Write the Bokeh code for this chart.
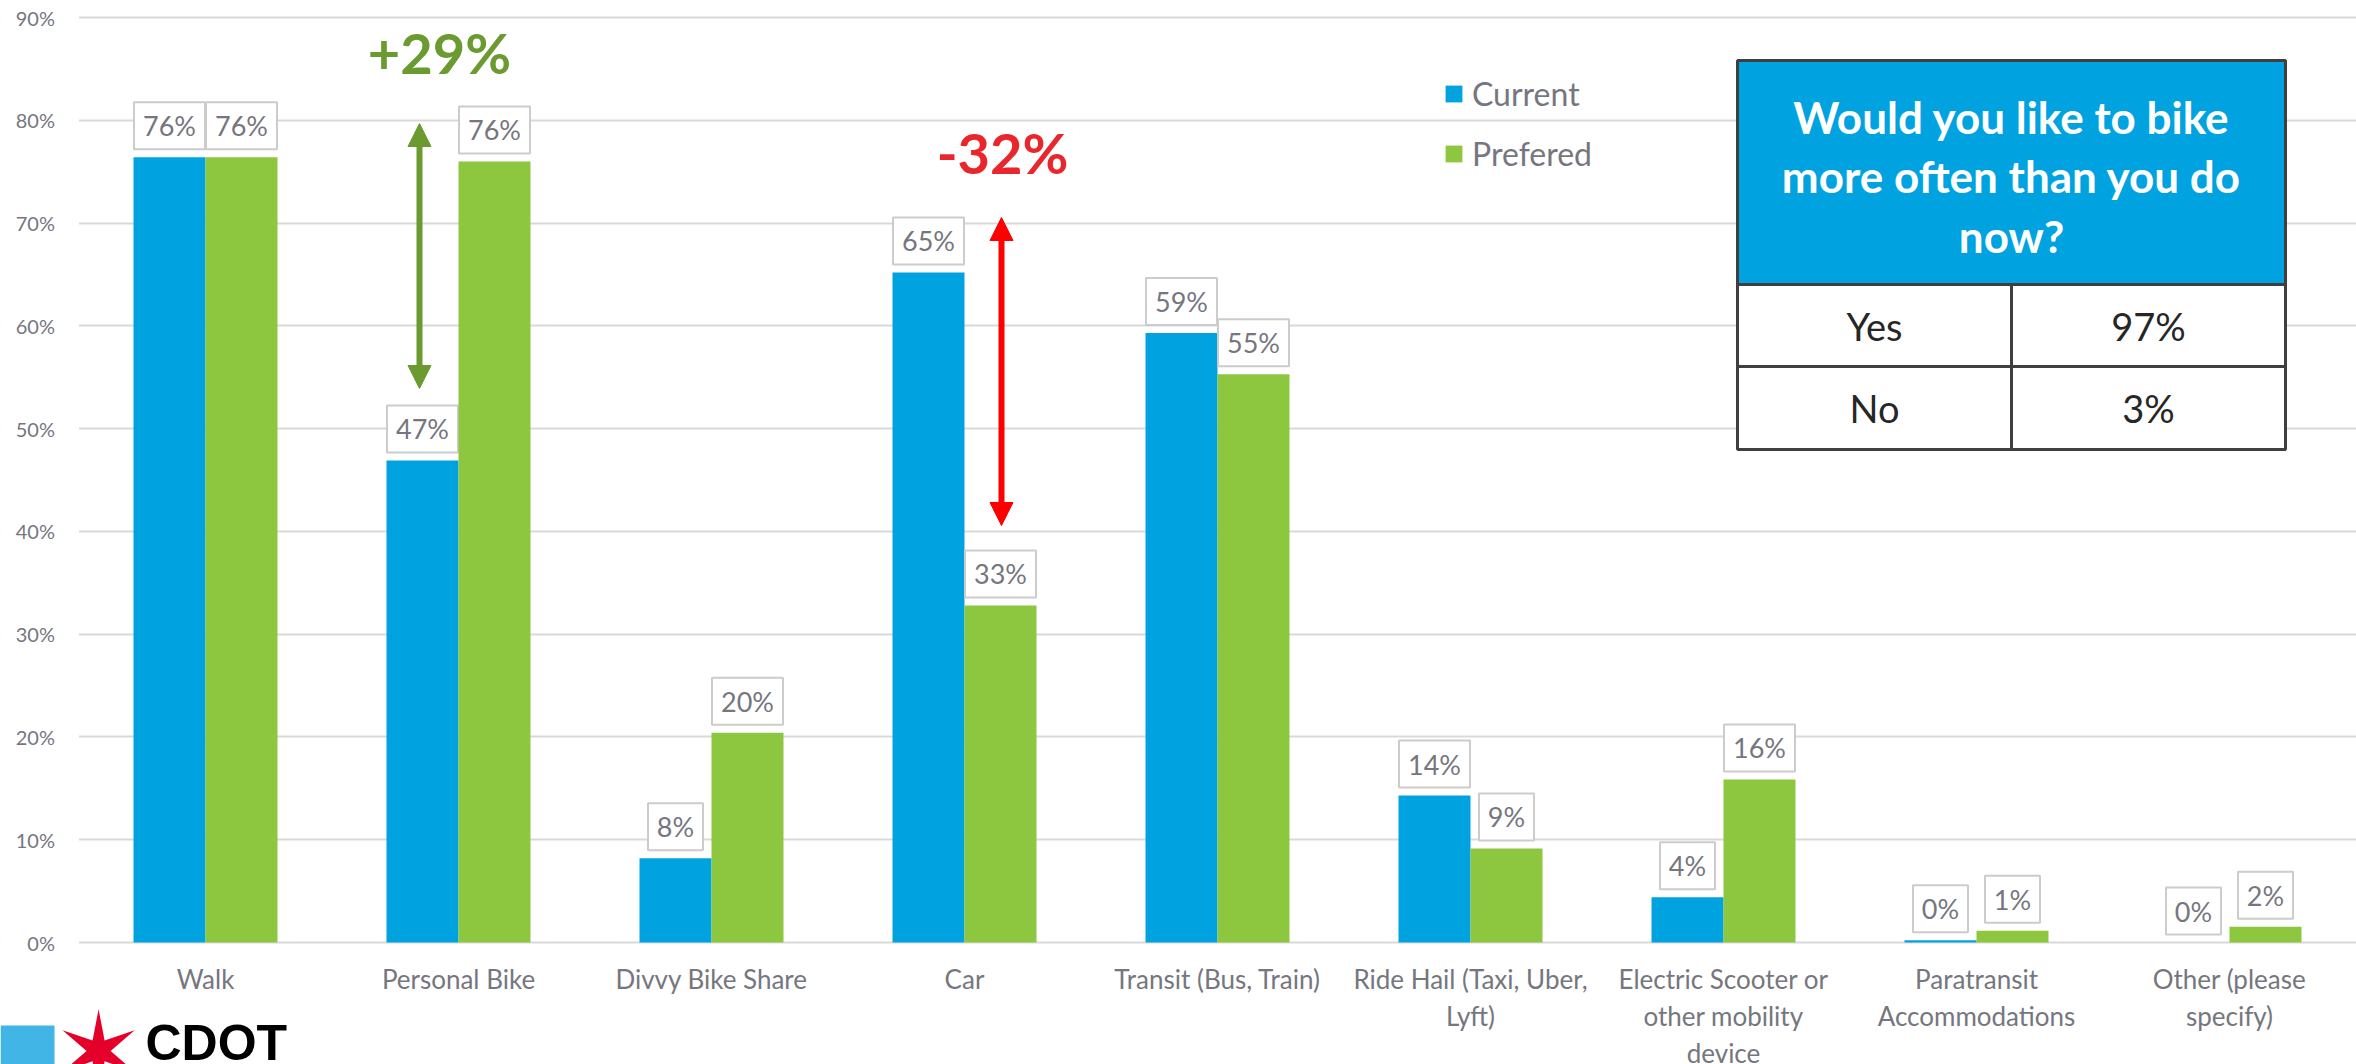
from bokeh.plotting import figure
from bokeh.models import (ColumnDataSource, Range1d, FixedTicker, NumeralTickFormatter,
                          Label, Legend, LegendItem, Arrow, NormalHead)
from bokeh.core.properties import value
from bokeh.embed import file_html
from bokeh.resources import INLINE

# ---------------- data ----------------
categories = ["Walk", "Personal Bike", "Divvy Bike Share", "Car", "Transit (Bus, Train)",
              "Ride Hail (Taxi, Uber, Lyft)", "Electric Scooter or other mobility device",
              "Paratransit Accommodations", "Other (please specify)"]
category_labels = ["Walk", "Personal Bike", "Divvy Bike Share", "Car", "Transit (Bus, Train)",
                   "Ride Hail (Taxi, Uber,\nLyft)", "Electric Scooter or\nother mobility\ndevice",
                   "Paratransit\nAccommodations", "Other (please\nspecify)"]
current = [0.764, 0.469, 0.082, 0.652, 0.593, 0.143, 0.044, 0.0023, 0.0]
prefered = [0.764, 0.760, 0.204, 0.328, 0.553, 0.0915, 0.1586, 0.0114, 0.0153]
series_names = ["Current", "Prefered"]
y_ticks = [0.0, 0.1, 0.2, 0.3, 0.4, 0.5, 0.6, 0.7, 0.8, 0.9]
change_labels = ["+29%", "-32%"]
table_question = "Would you like to bike\nmore often than you do\nnow?"
table_answers = ["Yes", "No"]
table_shares = ["97%", "3%"]
logo_text = "CDOT"

# ---------------- style / layout ----------------
BLUE = "#00A3E0"
GREEN = "#8DC63F"
DARK_GREEN = "#6B9A31"
RED_TXT = "#E8262B"
RED_ARROW = "#FF0000"
GRAY_TXT = "#76767F"
GRID = "#D9D9D9"
FONT = "Lato"

W, H = 2356, 1064
PPU_X = 253.0                  # pixels per category
WALK_X = 205.0                 # page x of first category centre
ZERO_Y, TOP_Y = 942.0, 17.0    # page y of 0% and 90%
PPU_Y = (ZERO_Y - TOP_Y) / 0.9
X0 = -WALK_X / PPU_X           # data x at canvas left
Y1 = 0.9 + TOP_Y / PPU_Y
Y0 = -(H - ZERO_Y) / PPU_Y


def px(xp):
    return X0 + xp / PPU_X


def py(yp):
    return (ZERO_Y - yp) / PPU_Y


BAR_W = 72 / PPU_X
OFF = BAR_W / 2
idx = list(range(len(categories)))

p = figure(width=W, height=H, x_range=Range1d(X0, X0 + W / PPU_X), y_range=Range1d(Y0, Y1),
           output_backend="svg", toolbar_location=None,
           min_border_left=0, min_border_right=0, min_border_top=0, min_border_bottom=0)
p.outline_line_color = None
p.xaxis.visible = False
p.xgrid.visible = False
p.ygrid.grid_line_color = GRID
p.ygrid.grid_line_width = 2
p.ygrid.ticker = FixedTicker(ticks=y_ticks)
yax = p.yaxis[0]
yax.fixed_location = -0.5
yax.ticker = FixedTicker(ticks=y_ticks)
yax.formatter = NumeralTickFormatter(format="0%")
yax.axis_line_color = None
yax.major_tick_line_color = None
yax.minor_tick_line_color = None
yax.major_tick_out = 0
yax.major_tick_in = 0
yax.major_label_standoff = 24
yax.major_label_text_font = FONT
yax.major_label_text_font_size = "20px"
yax.major_label_text_color = GRAY_TXT

# mask grid lines left of the plotting area (under the tick labels)
p.quad(left=[X0], right=[-0.5], bottom=[-0.01], top=[Y1], fill_color="white", line_color=None)

renderers = []
for vals, off, color in [(current, -OFF, BLUE), (prefered, OFF, GREEN)]:
    labs = [f"{v * 100:.0f}%" for v in vals]
    xs = [i + off for i in idx]
    src = ColumnDataSource(dict(
        x=xs, val=vals, lab=labs,
        lab_y=[v + 31.5 / PPU_Y for v in vals],
        box_w=[39 + 16 * (len(s) - 1) for s in labs],
    ))
    r = p.vbar(x="x", top="val", width=BAR_W, source=src, fill_color=color, line_color=None)
    renderers.append(r)
    p.rect(x="x", y="lab_y", width="box_w", height=47, width_units="screen", height_units="screen",
           source=src, fill_color="white", line_color="#CCCCCC", line_width=2)
    p.text(x="x", y="lab_y", text="lab", source=src, text_align="center", text_baseline="middle",
           text_font=value(FONT), text_font_size=value("27px"), text_color=GRAY_TXT)

# category labels (multi-line, below the zero line)
cat_src = ColumnDataSource(dict(x=idx, zero=[0] * len(categories), label=category_labels))
p.text(x="x", y="zero", text="label", source=cat_src, y_offset=20, text_align="center",
       text_baseline="top", text_font=value(FONT), text_font_size=value("26px"),
       text_color=GRAY_TXT, text_line_height=1.16)

# legend
legend = Legend(items=[LegendItem(label=series_names[0], renderers=[renderers[0]]),
                       LegendItem(label=series_names[1], renderers=[renderers[1]])],
                location=(1443, 891), orientation="vertical",
                glyph_width=21, glyph_height=21, label_height=40, spacing=20, label_standoff=8,
                padding=0, margin=0, border_line_color=None, background_fill_alpha=0,
                label_text_font=FONT, label_text_font_size="32px", label_text_color=GRAY_TXT)
p.add_layout(legend)

# change arrows and texts
for xa, y0, y1, col in [(px(419), py(388), py(123), DARK_GREEN), (px(1001), py(525), py(217), RED_ARROW)]:
    p.add_layout(Arrow(start=NormalHead(size=23, fill_color=col, line_color=col),
                       end=NormalHead(size=23, fill_color=col, line_color=col),
                       x_start=xa, y_start=y0, x_end=xa, y_end=y1,
                       line_color=col, line_width=6))
p.add_layout(Label(x=px(439), y=py(52), text=change_labels[0], text_font=FONT, text_font_style="bold",
                   text_font_size="56px", text_color=DARK_GREEN, text_align="center", text_baseline="middle"))
p.add_layout(Label(x=px(1002), y=py(152), text=change_labels[1], text_font=FONT, text_font_style="bold",
                   text_font_size="56px", text_color=RED_TXT, text_align="center", text_baseline="middle"))

# table
T_L, T_M, T_R = 1737, 2011, 2285
T_T, T_H, T_R1, T_B = 60, 284, 366, 449
p.quad(left=[px(T_L)], right=[px(T_R)], top=[py(T_T)], bottom=[py(T_H)],
       fill_color=BLUE, line_color="#3F3F3F", line_width=3)
p.quad(left=[px(T_L), px(T_M), px(T_L), px(T_M)], right=[px(T_M), px(T_R), px(T_M), px(T_R)],
       top=[py(T_H), py(T_H), py(T_R1), py(T_R1)], bottom=[py(T_R1), py(T_R1), py(T_B), py(T_B)],
       fill_color="white", line_color="#3F3F3F", line_width=3)
p.text(x=[px((T_L + T_R) / 2)], y=[py(176)], text=[table_question], text_align="center",
       text_baseline="middle", text_font=value(FONT), text_font_style="bold",
       text_font_size=value("44px"), text_color="white", text_line_height=1.14)
rows_y = [py((T_H + T_R1) / 2), py((T_R1 + T_B) / 2)]
p.text(x=[px((T_L + T_M) / 2)] * 2 + [px((T_M + T_R) / 2)] * 2, y=rows_y + rows_y,
       text=table_answers + table_shares, text_align="center", text_baseline="middle",
       text_font=value(FONT), text_font_size=value("38px"), text_color="#262626")

# CDOT logo (cut at the bottom edge, as in the original)
p.quad(left=[px(0)], right=[px(54)], top=[py(1025)], bottom=[Y0 - 0.05],
       fill_color="#41B6E6", line_color=None)
p.text(x=[px(98)], y=[py(1052)], text=["\u2736"], text_align="center", text_baseline="middle",
       text_font=value("DejaVu Sans"), text_font_size=value("110px"), text_color="#E4002B")
p.text(x=[px(145)], y=[py(1014)], text=[logo_text], text_align="left", text_baseline="top",
       text_font=value("Liberation Sans"), text_font_style="bold",
       text_font_size=value("50px"), text_color="black")

open("out.html", "w").write(file_html(p, INLINE))
